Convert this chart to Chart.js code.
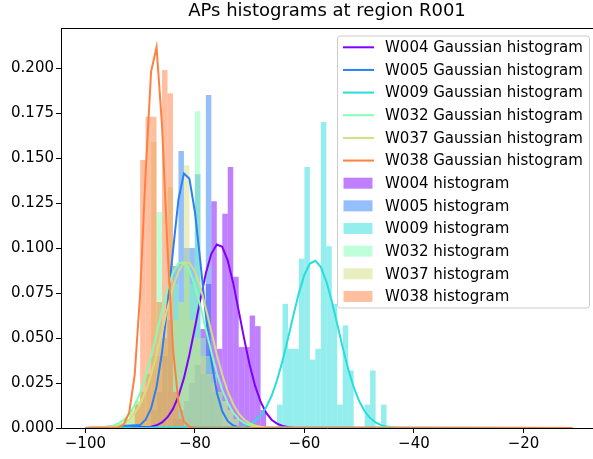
<!DOCTYPE html>
<html lang="en">
<head>
  <meta charset="UTF-8" />
  <title>APs histograms at region R001</title>
  <script src="https://cdn.jsdelivr.net/npm/chart.js"></script>
  <style>
    html, body { margin: 0; padding: 0; background: #fff; }
  </style>
</head>
<body>
  <canvas id="canvas_histogramas" width="593" height="459"></canvas>
<script>
  // pontos de acesso
  var wells = ["W004", "W005", "W009", "W032", "W037", "W038"];
  var cores = ["128, 0, 255", "42, 128, 246", "42, 221, 221", "128, 255, 180", "212, 221, 128", "255, 128, 66"];

  // histogramas (densidade), primeiro bin = borda esquerda, largura 1
  var w004_hist_inicio = -84;
  var w004_hist = [0.005, 0.01, 0.015, 0.025, 0.035, 0.055, 0.08, 0.126, 0.044, 0.119, 0.145, 0.084, 0.045, 0.045, 0.0625, 0.0566, 0.01];
  var w005_hist_inicio = -88;
  var w005_hist = [0.01, 0.02, 0.04, 0.06, 0.09, 0.154, 0.1, 0.1, 0.141, 0.03, 0.185, 0.02, 0.02];
  var w009_hist_inicio = -65;
  var w009_hist = [0.013, 0.069, 0.044, 0.044, 0.094, 0.145, 0.038, 0.044, 0.170, 0.101, 0.069, 0.013, 0.057, 0.032, 0, 0, 0.013, 0.032, 0, 0.013];
  var w032_hist_inicio = -93;
  var w032_hist = [0.005, 0.01, 0.015, 0.02, 0.03, 0.04, 0.12, 0.05, 0.06, 0.08, 0.07, 0.09, 0.08, 0.176, 0.05, 0.04, 0.03, 0.02, 0.015, 0.01, 0.005];
  var w037_hist_inicio = -93;
  var w037_hist = [0.005, 0.01, 0.015, 0.02, 0.03, 0.159, 0.04, 0.05, 0.134, 0.06, 0.07, 0.146, 0.06, 0.05, 0.04, 0.03, 0.025, 0.02, 0.015, 0.01, 0.005];
  var w038_hist_inicio = -91;
  var w038_hist = [0.013, 0.149, 0.173, 0.173, 0.07, 0.199, 0.186, 0.02, 0.005];

  // curvas gaussianas, um valor por dBm a partir do inicio
  var w004_gauss_inicio = -88;
  var w004_gauss = [0.0007, 0.0015, 0.0031, 0.006, 0.0106, 0.0177, 0.0277, 0.0407, 0.0557, 0.0715, 0.086, 0.0968, 0.102, 0.1007, 0.093, 0.0805, 0.0652, 0.0495, 0.0352, 0.0234, 0.0146, 0.0085, 0.0046, 0.0024, 0.0011, 0.0005, 0.0002];
  var w005_gauss_inicio = -90;
  var w005_gauss = [0.0017, 0.0046, 0.0109, 0.0228, 0.0421, 0.0685, 0.0984, 0.127, 0.1415, 0.1385, 0.1202, 0.0925, 0.0628, 0.0376, 0.0199, 0.0093, 0.0038, 0.0014, 0.0004];
  var w009_gauss_inicio = -72;
  var w009_gauss = [0.0005, 0.0011, 0.0021, 0.0039, 0.0068, 0.0114, 0.0178, 0.0265, 0.0373, 0.0497, 0.0628, 0.0751, 0.0852, 0.0914, 0.0929, 0.0894, 0.0815, 0.0704, 0.0576, 0.0446, 0.0327, 0.0227, 0.015, 0.0093, 0.0055, 0.0031, 0.0016, 0.0008, 0.0004, 0.0002];
  var w032_gauss_inicio = -96;
  var w032_gauss = [0.0006, 0.0013, 0.0025, 0.0045, 0.0077, 0.0126, 0.0195, 0.0286, 0.0397, 0.0523, 0.0652, 0.0771, 0.0863, 0.0916, 0.0921, 0.0878, 0.0792, 0.0677, 0.0549, 0.0422, 0.0307, 0.0211, 0.0138, 0.0085, 0.005, 0.0028, 0.0015, 0.0007, 0.0003];
  var w037_gauss_inicio = -95;
  var w037_gauss = [0.0007, 0.0014, 0.0026, 0.0047, 0.0081, 0.0132, 0.0203, 0.0296, 0.0409, 0.0536, 0.0665, 0.0782, 0.0871, 0.0919, 0.0919, 0.0871, 0.0782, 0.0665, 0.0536, 0.0409, 0.0296, 0.0203, 0.0132, 0.0081, 0.0047, 0.0026, 0.0014, 0.0007, 0.0003];
  var w038_gauss_inicio = -94;
  var w038_gauss = [0.0003, 0.0019, 0.0085, 0.0292, 0.0744, 0.1414, 0.198, 0.2117, 0.168, 0.0996, 0.0439, 0.0145, 0.0036, 0.0007, 0.0001];
  var gauss_limites = [-100, -11];

  // eixos
  var x_ticks = [-100, -80, -60, -40, -20];
  var y_ticks = [0, 0.025, 0.05, 0.075, 0.1, 0.125, 0.15, 0.175, 0.2];
  var x_min = -104.45, x_max = -7.3;
  var y_max = 0.2223;

  var hist_inicios = [w004_hist_inicio, w005_hist_inicio, w009_hist_inicio, w032_hist_inicio, w037_hist_inicio, w038_hist_inicio];
  var hists = [w004_hist, w005_hist, w009_hist, w032_hist, w037_hist, w038_hist];
  var gauss_inicios = [w004_gauss_inicio, w005_gauss_inicio, w009_gauss_inicio, w032_gauss_inicio, w037_gauss_inicio, w038_gauss_inicio];
  var gausses = [w004_gauss, w005_gauss, w009_gauss, w032_gauss, w037_gauss, w038_gauss];

  var fonte = "'DejaVu Sans', sans-serif";

  function pontos_hist(inicio, valores) {
    var pts = [];
    for (var i = 0; i < valores.length; i++) {
      if (valores[i] > 0) pts.push({ x: inicio + i + 0.5, y: valores[i] });
    }
    return pts;
  }

  function pontos_gauss(inicio, valores) {
    var pts = [{ x: gauss_limites[0], y: 0 }];
    for (var i = 0; i < valores.length; i++) {
      pts.push({ x: inicio + i, y: valores[i] });
    }
    pts.push({ x: gauss_limites[1], y: 0 });
    return pts;
  }

  var datasets = [];
  for (var k = 0; k < wells.length; k++) {
    datasets.push({
      type: "line",
      label: wells[k] + " Gaussian histogram",
      data: pontos_gauss(gauss_inicios[k], gausses[k]),
      borderColor: "rgb(" + cores[k] + ")",
      borderWidth: 2,
      pointRadius: 0,
      tension: 0,
      fill: false,
      order: wells.length - k,
    });
  }
  for (var k = 0; k < wells.length; k++) {
    datasets.push({
      type: "bar",
      label: wells[k] + " histogram",
      data: pontos_hist(hist_inicios[k], hists[k]),
      backgroundColor: "rgba(" + cores[k] + ", 0.5)",
      borderWidth: 0,
      inflateAmount: 0,
      grouped: false,
      barPercentage: 1,
      categoryPercentage: 1,
      order: 2 * wells.length - k,
    });
  }

  // legenda no estilo do matplotlib, dentro da area do grafico
  var caixa_legenda = {
    id: "caixa_legenda",
    afterDraw(chart) {
      var ctx = chart.ctx;
      var area = chart.chartArea;
      ctx.save();
      // borda de cima do eixo
      ctx.strokeStyle = "#000";
      ctx.lineWidth = 1;
      ctx.beginPath();
      ctx.moveTo(area.left, area.top + 0.5);
      ctx.lineTo(area.right, area.top + 0.5);
      ctx.stroke();

      var bx = 337.5, by = 36, bw = 252, bh = 272;
      ctx.fillStyle = "rgba(255,255,255,0.8)";
      ctx.strokeStyle = "#cccccc";
      ctx.beginPath();
      ctx.roundRect(bx, by, bw, bh, 3);
      ctx.fill();
      ctx.stroke();

      ctx.font = "15px " + fonte;
      ctx.textBaseline = "middle";
      ctx.textAlign = "left";
      var linha = 0;
      for (var k = 0; k < wells.length; k++, linha++) {
        var cy = 47.3 + linha * 22.65;
        ctx.strokeStyle = "rgb(" + cores[k] + ")";
        ctx.lineWidth = 2;
        ctx.beginPath();
        ctx.moveTo(343, cy);
        ctx.lineTo(374, cy);
        ctx.stroke();
        ctx.fillStyle = "#000";
        ctx.fillText(wells[k] + " Gaussian histogram", 385, cy + 1);
      }
      for (var k = 0; k < wells.length; k++, linha++) {
        var cy = 47.3 + linha * 22.65;
        ctx.fillStyle = "rgba(" + cores[k] + ", 0.5)";
        ctx.fillRect(343.5, cy - 5.5, 29, 11);
        ctx.fillStyle = "#000";
        ctx.fillText(wells[k] + " histogram", 385, cy + 1);
      }
      ctx.restore();
    },
  };

  function menos(v) {
    return v < 0 ? "\u2212" + Math.abs(v) : String(v);
  }

  new Chart(document.getElementById("canvas_histogramas"), {
    type: "bar",
    data: { datasets: datasets },
    options: {
      responsive: false,
      animation: false,
      devicePixelRatio: 1,
      layout: { padding: 0 },
      scales: {
        x: {
          type: "linear",
          min: x_min,
          max: x_max,
          offset: false,
          grid: { offset: false, drawOnChartArea: false, tickLength: 5, color: "#000", tickWidth: 1 },
          border: { display: true, color: "#000", width: 1 },
          ticks: {
            color: "#000",
            padding: 2,
            maxRotation: 0,
            autoSkip: false,
            font: { family: fonte, size: 15 },
            callback: function (v) { return menos(v); },
          },
          afterBuildTicks: function (s) { s.ticks = x_ticks.map(function (v) { return { value: v }; }); },
          afterFit: function (s) { s.height = 31; },
        },
        y: {
          type: "linear",
          min: 0,
          max: y_max,
          grid: { drawOnChartArea: false, tickLength: 5, color: "#000", tickWidth: 1 },
          border: { display: true, color: "#000", width: 1 },
          ticks: {
            color: "#000",
            padding: 2,
            font: { family: fonte, size: 15 },
            callback: function (v) { return v.toFixed(3); },
          },
          afterBuildTicks: function (s) { s.ticks = y_ticks.map(function (v) { return { value: v }; }); },
          afterFit: function (s) { s.width = 61; },
        },
      },
      plugins: {
        legend: { display: false },
        tooltip: { enabled: false },
        title: {
          display: true,
          text: "APs histograms at region R001",
          fullSize: false,
          color: "#000",
          font: { family: fonte, size: 18, weight: "normal" },
          padding: { top: 1, bottom: 5.4 },
        },
      },
    },
    plugins: [caixa_legenda],
  });
</script>
</body>
</html>
